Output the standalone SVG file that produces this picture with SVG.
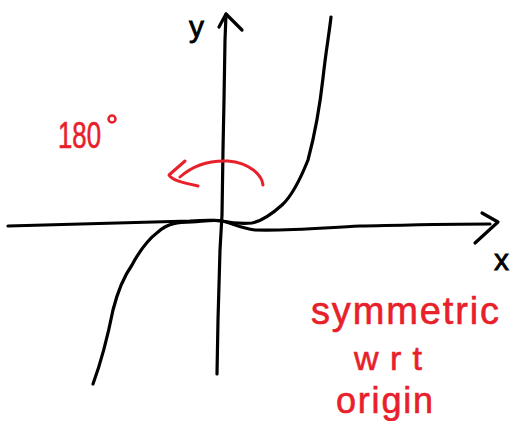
<svg xmlns="http://www.w3.org/2000/svg" width="515" height="421" viewBox="0 0 515 421">
<style>
.ink{fill:none;stroke:#000;stroke-width:3.2;stroke-linecap:round;stroke-linejoin:round}
.red{fill:none;stroke:#e8202a;stroke-width:3;stroke-linecap:round;stroke-linejoin:round}
.lbl{font-family:"Liberation Sans",Arial,sans-serif;fill:#000;stroke:#000;stroke-width:0.8}
.rlbl{font-family:"Liberation Sans",Arial,sans-serif;fill:#e8202a;stroke:#e8202a;stroke-width:0.6}
</style>
<rect width="515" height="421" fill="#fff"/>
<g id="axes">
<path class="ink" d="M217,374 L218,320 L220,250 L222,215 L223,150 L224,100 L225,40 L226,14"/>
<path class="ink" d="M219,27 L226,14 L242,30"/>
<path class="ink" d="M8,226 C60,224 120,223 190,221 C205,220 215,220 222,221 C232,223 240,228 255,230 C290,231 320,228 360,226 C410,225 450,224 490,224"/>
<path class="ink" d="M482,213 L498,222 L475,243"/>
</g>
<g id="curve">
<path class="ink" d="M93,384 C100,365 108,335 113,310 C118,290 125,275 132,265 C140,250 150,238 158,232 C168,223 178,222 192,222 C205,221 214,219 222,221 C232,223 240,224 252,223 C262,221 272,214 282,205 C292,196 300,180 308,160 C316,130 320,105 323,78 C326,50 329,35 331,17"/>
</g>
<g id="rotation">
<path class="red" d="M263,185 C262,175 250,163 228,161 C205,160 190,168 180,177"/>
<path class="red" d="M185,161 L169,175 C172,180 180,182 198,186"/>
</g>
<text class="lbl" x="189" y="37" font-size="30">y</text>
<text class="lbl" x="494" y="270" font-size="30">x</text>
<text class="rlbl" x="58" y="148" font-size="36" textLength="43" lengthAdjust="spacingAndGlyphs">180</text>
<circle cx="112" cy="119" r="3.5" fill="none" stroke="#e8202a" stroke-width="2.5"/>
<text class="rlbl" x="311" y="324" font-size="38" textLength="188" lengthAdjust="spacing">symmetric</text>
<text class="rlbl" x="354" y="370" font-size="34" textLength="68" lengthAdjust="spacing">wrt</text>
<text class="rlbl" x="336" y="413" font-size="36" textLength="97" lengthAdjust="spacing">origin</text>
</svg>
